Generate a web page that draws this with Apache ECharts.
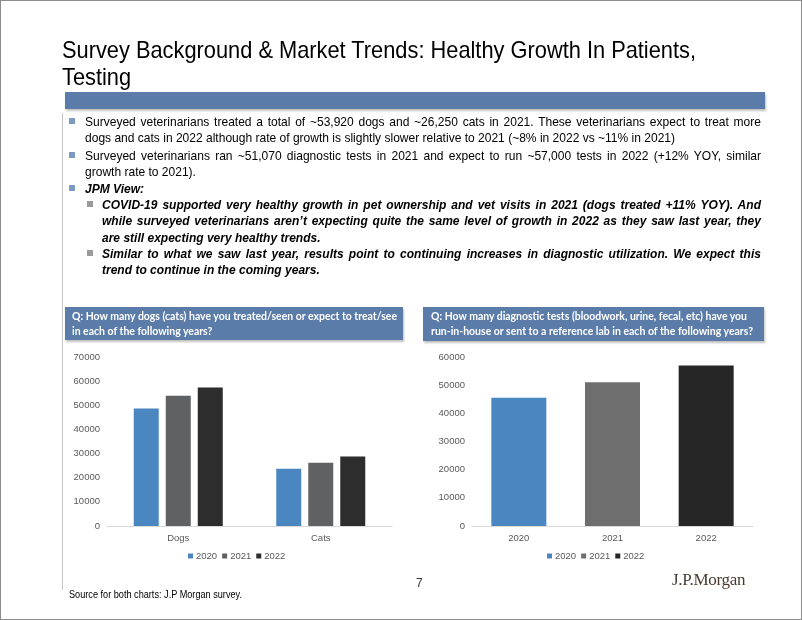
<!DOCTYPE html>
<html>
<head>
<meta charset="utf-8">
<script src="https://cdn.jsdelivr.net/npm/echarts@6/dist/echarts.min.js"></script>
<style>
html,body{margin:0;padding:0;background:#fff;}
#page{position:relative;width:802px;height:620px;overflow:hidden;background:#fff;
  font-family:'Liberation Sans Narrow','Arial Narrow','Liberation Sans',Arial,sans-serif;color:#000;}
#chart{position:absolute;left:0;top:0;width:802px;height:620px;}
.frame{position:absolute;left:0;top:0;width:800px;height:618px;border:1px solid #8c8c8c;pointer-events:none;}
.ln{position:absolute;white-space:nowrap;transform-origin:0 0;}
.title{font-size:24px;line-height:28px;color:#000;}
.body{font-size:13px;line-height:16px;}
.bi{font-weight:bold;font-style:italic;}
.hdr{position:absolute;background:#5b7ca9;box-shadow:1px 2px 2px rgba(0,0,0,0.25);}
.htxt{font-family:Lato,'Open Sans',sans-serif;font-weight:bold;color:#fff;font-size:11px;line-height:14px;}
.m1{position:absolute;width:6px;height:6px;background:#7b9bc3;}
.m2{position:absolute;width:6px;height:6px;background:#9a9a9a;}
</style>
</head>
<body>
<div id="page">
  <div id="chart"></div>
  <div class="frame"></div>

  <div class="ln title" data-fit="634" style="left:62px;top:36px;">Survey Background &amp; Market Trends: Healthy Growth In Patients,</div>
  <div class="ln title" data-fit-like="1" style="left:62px;top:63px;">Testing</div>

  <div class="hdr" style="left:65px;top:92px;width:700px;height:17px;"></div>
  <div style="position:absolute;left:62px;top:113px;width:1px;height:477px;background:#c4c4c4;"></div>

  <div class="m1" style="left:69px;top:118px;"></div>
  <div class="ln body" data-just="676" style="left:85px;top:114px;">Surveyed veterinarians treated a total of ~53,920 dogs and ~26,250 cats in 2021. These veterinarians expect to treat more</div>
  <div class="ln body" data-cond="1" style="left:85px;top:130px;">dogs and cats in 2022 although rate of growth is slightly slower relative to 2021 (~8% in 2022 vs ~11% in 2021)</div>

  <div class="m1" style="left:69px;top:152px;"></div>
  <div class="ln body" data-just="676" style="left:85px;top:148px;">Surveyed veterinarians ran ~51,070 diagnostic tests in 2021 and expect to run ~57,000 tests in 2022 (+12% YOY, similar</div>
  <div class="ln body" data-cond="1" style="left:85px;top:164px;">growth rate to 2021).</div>

  <div class="m1" style="left:69px;top:185px;"></div>
  <div class="ln body bi" data-cond="1" style="left:85px;top:181px;">JPM View:</div>

  <div class="m2" style="left:87px;top:201px;"></div>
  <div class="ln body bi" data-just="659" style="left:102px;top:197px;">COVID-19 supported very healthy growth in pet ownership and vet visits in 2021 (dogs treated +11% YOY). And</div>
  <div class="ln body bi" data-just="659" style="left:102px;top:213px;">while surveyed veterinarians aren’t expecting quite the same level of growth in 2022 as they saw last year, they</div>
  <div class="ln body bi" data-cond="1" style="left:102px;top:230px;">are still expecting very healthy trends.</div>

  <div class="m2" style="left:87px;top:250px;"></div>
  <div class="ln body bi" data-just="659" style="left:102px;top:246px;">Similar to what we saw last year, results point to continuing increases in diagnostic utilization. We expect this</div>
  <div class="ln body bi" data-cond="1" style="left:102px;top:262px;">trend to continue in the coming years.</div>

  <div class="hdr" style="left:65px;top:307px;width:338px;height:33px;"></div>
  <div class="ln htxt" data-fit="325" style="left:72px;top:309px;">Q: How many dogs (cats) have you treated/seen or expect to treat/see</div>
  <div class="ln htxt" data-fit-like="1" style="left:72px;top:324px;">in each of the following years?</div>

  <div class="hdr" style="left:423px;top:307px;width:341px;height:34px;"></div>
  <div class="ln htxt" data-fit="316" style="left:431px;top:309px;">Q: How many diagnostic tests (bloodwork, urine, fecal, etc) have you</div>
  <div class="ln htxt" data-fit="322" style="left:431px;top:324px;">run-in-house or sent to a reference lab in each of the following years?</div>

  <div class="ln" style="left:416px;top:576px;font-family:'Liberation Sans',Arial,sans-serif;font-size:12px;line-height:14px;color:#333;">7</div>
  <div class="ln" style="left:672px;top:570px;font-family:'Liberation Serif','DejaVu Serif',serif;font-size:17px;line-height:20px;color:#4b3a2e;letter-spacing:-0.3px;">J.P.Morgan</div>
  <div class="ln" data-fit="173" style="left:69px;top:589px;font-size:10px;line-height:12px;">Source for both charts: J.P Morgan survey.</div>
</div>

<script>
// ---- Data ----
const petCategories = ['Dogs', 'Cats'];
const yearNames = ['2020', '2021', '2022'];
const pets2020 = [48700, 23700];
const pets2021 = [53920, 26250];
const pets2022 = [57400, 28800];
const testCategories = ['2020', '2021', '2022'];
const testValues = [45500, 51070, 57000];
const petAxisMax = 70000;
const testAxisMax = 60000;
const axisStep = 10000;

// ---- Styles ----
const petColors = ['#4a86c0', '#606163', '#2d2d2d'];
const testColors = ['#4a86c0', '#6e6e6e', '#262626'];
const labelFont = "'Liberation Sans', Arial, sans-serif";

const chart = echarts.init(document.getElementById('chart'), null, {renderer: 'canvas'});

const petSeries = [pets2020, pets2021, pets2022].map((vals, i) => ({
  name: yearNames[i], type: 'bar', xAxisIndex: 0, yAxisIndex: 0,
  data: vals, barWidth: 25, barGap: '28%',
  itemStyle: {color: petColors[i]}
}));
const testSeries = yearNames.map((nm, i) => ({
  name: nm, type: 'bar', xAxisIndex: 1, yAxisIndex: 1, stack: 'tests',
  data: testCategories.map((c, j) => j === i ? testValues[j] : '-'),
  barWidth: 55,
  itemStyle: {color: testColors[i]}
}));

const xAxisBase = {
  type: 'category',
  axisLine: {lineStyle: {color: '#d9d9d9', width: 1}},
  axisTick: {show: false},
  axisLabel: {color: '#595959', fontSize: 9.5, margin: 7, fontFamily: labelFont}
};
const yAxisBase = {
  type: 'value', min: 0, interval: axisStep,
  splitLine: {show: false}, axisLine: {show: false}, axisTick: {show: false},
  axisLabel: {color: '#595959', fontSize: 9.5, margin: 7, fontFamily: labelFont,
    formatter: v => String(v)}
};
const legendBase = {
  icon: 'rect', itemWidth: 5, itemHeight: 5, itemGap: 5, top: 551, padding: 0,
  textStyle: {color: '#595959', fontSize: 9.5, fontFamily: labelFont, padding: [0, 0, 0, -2]},
  selectedMode: false
};

chart.setOption({
  animation: false,
  grid: [
    {left: 107, top: 357, width: 285, height: 169},
    {left: 472, top: 357, width: 281, height: 169}
  ],
  xAxis: [
    Object.assign({}, xAxisBase, {gridIndex: 0, data: petCategories}),
    Object.assign({}, xAxisBase, {gridIndex: 1, data: testCategories})
  ],
  yAxis: [
    Object.assign({}, yAxisBase, {gridIndex: 0, max: petAxisMax}),
    Object.assign({}, yAxisBase, {gridIndex: 1, max: testAxisMax})
  ],
  legend: [
    Object.assign({}, legendBase, {left: 188, data: yearNames.map((n, i) => ({name: n, itemStyle: {color: petColors[i]}}))}),
    Object.assign({}, legendBase, {left: 547, data: yearNames.map((n, i) => ({name: n, itemStyle: {color: testColors[i]}}))})
  ],
  series: petSeries.concat(testSeries)
});

// ---- text fitting / justification ----
const COND = 0.925; // condensed look of the body text
let lastScale = 1;
document.querySelectorAll('.ln').forEach(el => {
  const w = el.getBoundingClientRect().width;
  if (el.dataset.fit) {
    lastScale = parseFloat(el.dataset.fit) / w;
    el.style.transform = 'scaleX(' + lastScale + ')';
  } else if (el.dataset.fitLike) {
    el.style.transform = 'scaleX(' + lastScale + ')';
  } else if (el.dataset.cond) {
    el.style.transform = 'scaleX(' + COND + ')';
  } else if (el.dataset.just) {
    const target = parseFloat(el.dataset.just);
    const spaces = (el.textContent.match(/ /g) || []).length;
    if (w * COND <= target && spaces) {
      el.style.transform = 'scaleX(' + COND + ')';
      el.style.wordSpacing = ((target / COND - w) / spaces) + 'px';
    } else {
      el.style.transform = 'scaleX(' + (target / w) + ')';
    }
  }
});
</script>
</body>
</html>
